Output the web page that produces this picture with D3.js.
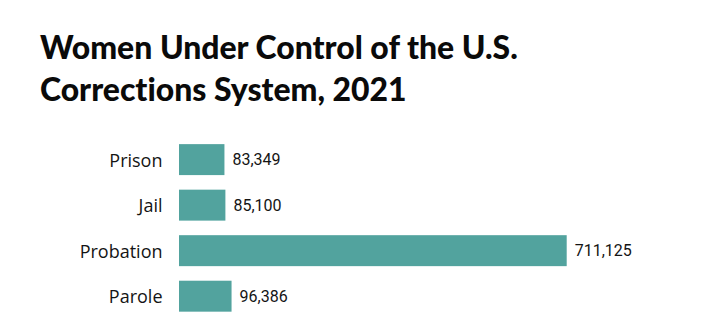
<!DOCTYPE html>
<html><head><meta charset="utf-8">
<script src="https://cdn.jsdelivr.net/npm/d3@7"></script>
<style>body{margin:0;background:#fff;} svg{display:block;} text{font-variant-ligatures:none;font-feature-settings:"liga" 0;}</style>
</head><body>
<svg id="chart" width="710" height="336"></svg>
<script>
const categories = ["Prison", "Jail", "Probation", "Parole"];
const values = [83349, 85100, 711125, 96386];
const titleLines = ["Women Under Control of the U.S.", "Corrections System, 2021"];

const svg = d3.select("#chart");
svg.append("rect").attr("width", 710).attr("height", 336).attr("fill", "#fff");

// title
const t = svg.append("g");
const l1 = t.append("text").attr("x", 40).attr("y", 59).text(titleLines[0]);
const l2 = t.append("text").attr("x", 40).attr("y", 101).text(titleLines[1]);
t.selectAll("text").attr("font-family", "Lato, 'Open Sans', sans-serif")
  .attr("font-weight", 900).attr("font-size", 28).attr("fill", "#0a0a0a");
const w1 = l1.node().getComputedTextLength();
const fs = 28 * 478 / w1;
t.selectAll("text").attr("font-size", fs);

const x = d3.scaleLinear().domain([0, 711125]).range([179, 566.7]);
const y = d3.scaleBand().domain(categories).range([136.85, 318.95])
  .paddingInner(0.32).paddingOuter(0.16);

const data = categories.map((c, i) => ({c, v: values[i]}));

svg.append("g").selectAll("rect").data(data).join("rect")
  .attr("x", x(0)).attr("y", d => y(d.c))
  .attr("width", d => x(d.v) - x(0)).attr("height", y.bandwidth())
  .attr("fill", "#52a39e");

const yAxis = d3.axisLeft(y).tickSize(0).tickPadding(0);
const ga = svg.append("g").attr("transform", `translate(${162.5},0)`).call(yAxis);
ga.select(".domain").remove();
ga.selectAll("text").attr("font-family", "'Open Sans', 'Noto Sans', sans-serif")
  .attr("font-size", 18).attr("dy", "0.4em").attr("fill", "#141414");

svg.append("g").selectAll("text").data(data).join("text")
  .attr("x", d => x(d.v) + 8).attr("y", d => y(d.c) + y.bandwidth() / 2)
  .attr("dy", "0.35em")
  .attr("font-family", "Roboto, sans-serif").attr("font-size", 16)
  .attr("fill", "#141414")
  .text(d => d3.format(",")(d.v));
</script>
</body></html>
